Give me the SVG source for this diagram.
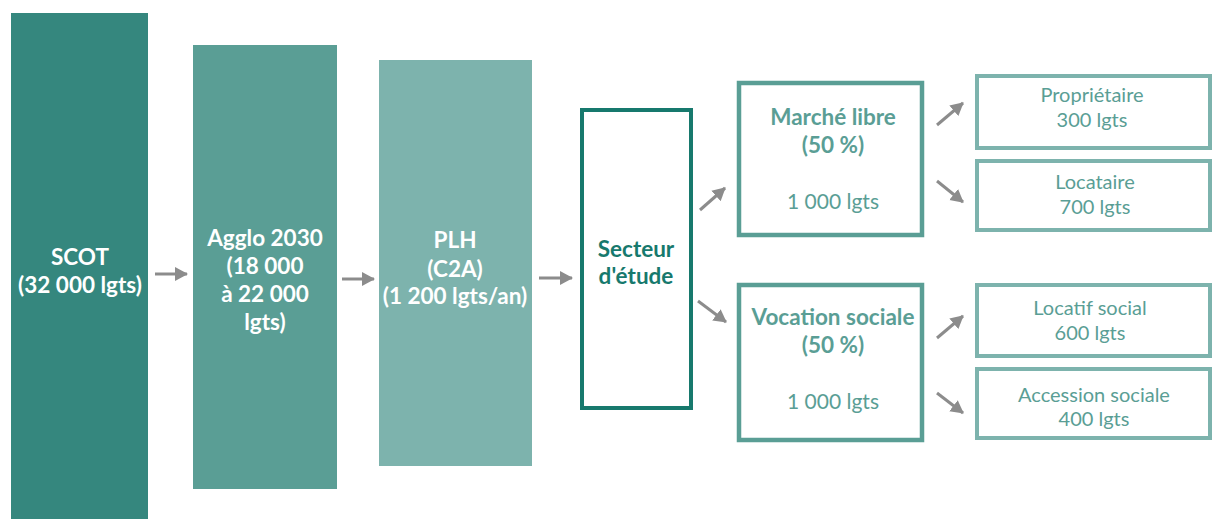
<svg xmlns="http://www.w3.org/2000/svg" width="1213" height="519" viewBox="0 0 1213 519">
<style>
.b{font-family:Lato,"Noto Sans",sans-serif;font-weight:bold;font-size:22.5px;text-anchor:middle}
.r{font-family:Lato,"Noto Sans",sans-serif;font-size:20px;text-anchor:middle}
.w{fill:#ffffff}
.c{stroke:#8c8c8c;stroke-width:3;fill:none;marker-end:url(#ah)}
</style>
<defs>
<marker id="ah" markerUnits="userSpaceOnUse" markerWidth="16" markerHeight="16" refX="12" refY="8" orient="auto">
<path d="M0,1 L13,8 L0,15 Z" fill="#8c8c8c"/>
</marker>
</defs>
<rect width="1213" height="519" fill="#ffffff"/>
<g id="scot">
<rect x="11" y="13" width="137" height="510" fill="#35877e"/>
<text class="b w" x="80" y="265">SCOT</text>
<text class="b w" x="80" y="293">(32 000 lgts)</text>
</g>
<g id="agglo">
<rect x="193" y="45" width="144" height="444" fill="#5a9e95"/>
<text class="b w" x="265" y="246">Agglo 2030</text>
<text class="b w" x="265" y="274">(18 000</text>
<text class="b w" x="265" y="302">à 22 000</text>
<text class="b w" x="265" y="330">lgts)</text>
</g>
<g id="plh">
<rect x="379" y="60" width="153" height="406" fill="#7db3ad"/>
<text class="b w" x="455" y="248">PLH</text>
<text class="b w" x="455" y="277">(C2A)</text>
<text class="b w" x="455" y="304">(1 200 lgts/an)</text>
</g>
<g id="secteur">
<rect x="582" y="110" width="109" height="298" fill="none" stroke="#17796d" stroke-width="4"/>
<text class="b" x="636" y="257" fill="#17796d">Secteur</text>
<text class="b" x="636" y="284" fill="#17796d">d'étude</text>
</g>
<g id="marche">
<rect x="739" y="83" width="183" height="152" fill="none" stroke="#5a9e95" stroke-width="4.5"/>
<text class="b" x="833" y="125" fill="#5a9e95">Marché libre</text>
<text class="b" x="833" y="153" fill="#5a9e95">(50 %)</text>
<text class="r" x="833" y="209" fill="#5a9e95" style="font-size:21px">1 000 lgts</text>
</g>
<g id="vocation">
<rect x="739" y="285" width="183" height="155" fill="none" stroke="#5a9e95" stroke-width="4.5"/>
<text class="b" x="833" y="325" fill="#5a9e95">Vocation sociale</text>
<text class="b" x="833" y="353" fill="#5a9e95">(50 %)</text>
<text class="r" x="833" y="409" fill="#5a9e95" style="font-size:21px">1 000 lgts</text>
</g>
<g id="proprietaire">
<rect x="977" y="76" width="233" height="72" fill="none" stroke="#7db3ad" stroke-width="4"/>
<text class="r" x="1092" y="102" fill="#5a9e95">Propriétaire</text>
<text class="r" x="1092" y="127" fill="#5a9e95">300 lgts</text>
</g>
<g id="locataire">
<rect x="977" y="161" width="233" height="69" fill="none" stroke="#7db3ad" stroke-width="4"/>
<text class="r" x="1095" y="189" fill="#5a9e95">Locataire</text>
<text class="r" x="1095" y="214" fill="#5a9e95">700 lgts</text>
</g>
<g id="locatif">
<rect x="977" y="285" width="233" height="71" fill="none" stroke="#7db3ad" stroke-width="4"/>
<text class="r" x="1090" y="315" fill="#5a9e95">Locatif social</text>
<text class="r" x="1090" y="340" fill="#5a9e95">600 lgts</text>
</g>
<g id="accession">
<rect x="977" y="369" width="233" height="69" fill="none" stroke="#7db3ad" stroke-width="4"/>
<text class="r" x="1094" y="402" fill="#5a9e95">Accession sociale</text>
<text class="r" x="1094" y="426" fill="#5a9e95">400 lgts</text>
</g>
<g id="connectors">
<line class="c" x1="155" y1="274" x2="187" y2="274"/>
<line class="c" x1="342" y1="279" x2="374" y2="279"/>
<line class="c" x1="539" y1="278" x2="572" y2="278"/>
<line class="c" x1="700" y1="210" x2="725" y2="188"/>
<line class="c" x1="698" y1="301" x2="726" y2="322"/>
<line class="c" x1="937" y1="125" x2="963" y2="103"/>
<line class="c" x1="937" y1="181" x2="963" y2="202"/>
<line class="c" x1="937" y1="338" x2="963" y2="316"/>
<line class="c" x1="937" y1="393" x2="963" y2="413"/>
</g>
</svg>
